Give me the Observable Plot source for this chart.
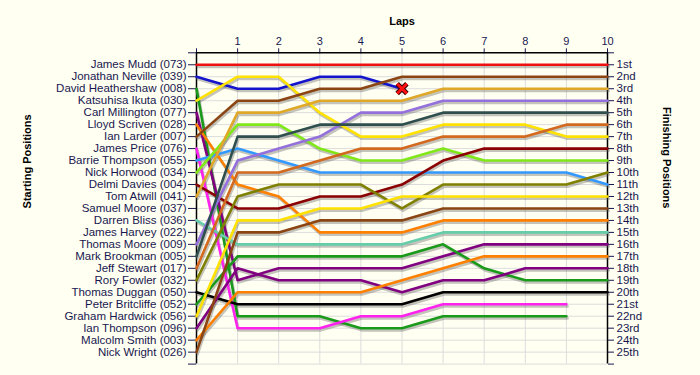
<!DOCTYPE html>
<html>
<head>
<meta charset="utf-8">
<script src="https://cdn.jsdelivr.net/npm/d3@7"></script>
<script src="https://cdn.jsdelivr.net/npm/@observablehq/plot@0.6"></script>
<style>
  html, body { margin: 0; padding: 0; background: #fffff2; }
</style>
</head>
<body>
<div id="chart"></div>
<script>
// Starting grid order (position 1..25)
const startNames = [
  "James Mudd (073)", "Jonathan Neville (039)", "David Heathershaw (008)", "Katsuhisa Ikuta (030)",
  "Carl Millington (077)", "Lloyd Scriven (028)", "Ian Larder (007)", "James Price (076)",
  "Barrie Thompson (055)", "Nick Horwood (034)", "Delmi Davies (004)", "Tom Atwill (041)",
  "Samuel Moore (037)", "Darren Bliss (036)", "James Harvey (022)", "Thomas Moore (009)",
  "Mark Brookman (005)", "Jeff Stewart (017)", "Rory Fowler (032)", "Thomas Duggan (050)",
  "Peter Britcliffe (052)", "Graham Hardwick (056)", "Ian Thompson (096)", "Malcolm Smith (003)",
  "Nick Wright (026)"
];

const lapTicks = [0, 1, 2, 3, 4, 5, 6, 7, 8, 9, 10];

// Position of each driver at lap 0..N (same order as startNames)
const lapPositions = [
  [1, 1, 1, 1, 1, 1, 1, 1, 1, 1, 1],
  [2, 3, 3, 2, 2, 3],
  [3, 22, 22, 22, 23, 23, 22, 22, 22, 22],
  [4, 2, 2, 5, 7, 7, 6, 6, 6, 7, 7],
  [5, 19, 18, 18, 18, 18, 17, 16, 16, 16, 16],
  [6, 11, 12, 15, 15, 15, 14, 14, 14, 14, 14],
  [7, 4, 4, 3, 3, 2, 2, 2, 2, 2, 2],
  [8, 23, 23, 23, 22, 22, 21, 21, 21, 21],
  [9, 8, 9, 10, 10, 10, 10, 10, 10, 10, 11],
  [10, 6, 6, 8, 9, 9, 8, 9, 9, 9, 9],
  [11, 13, 13, 12, 12, 11, 9, 8, 8, 8, 8],
  [12, 5, 5, 4, 4, 4, 3, 3, 3, 3, 3],
  [],
  [14, 16, 16, 16, 16, 16, 15, 15, 15, 15, 15],
  [],
  [16, 9, 8, 7, 5, 5, 4, 4, 4, 4, 4],
  [17, 7, 7, 6, 6, 6, 5, 5, 5, 5, 5],
  [18, 10, 10, 9, 8, 8, 7, 7, 7, 6, 6],
  [19, 12, 11, 11, 11, 13, 11, 11, 11, 11, 10],
  [20, 21, 21, 21, 21, 21, 20, 20, 20, 20, 20],
  [21, 17, 17, 17, 17, 17, 16, 18, 19, 19, 19],
  [22, 14, 14, 13, 13, 12, 12, 12, 12, 12, 12],
  [23, 18, 19, 19, 19, 20, 19, 19, 18, 18, 18],
  [24, 20, 20, 20, 20, 19, 18, 17, 17, 17, 17],
  [25, 15, 15, 14, 14, 14, 13, 13, 13, 13, 13]
];

const driverColors = [
  "#ee1111", "#1414cc", "#1a9a1a", "#ffe200", "#800080", "#ff8000", "#8b4513", "#ff22ee",
  "#3399ff", "#80e818", "#8b0000", "#e0a828", "#999999", "#66cdaa", "#999999", "#9370db",
  "#2f4f4f", "#d2691e", "#808000", "#000000", "#1a9a1a", "#ffe200", "#800080", "#ff8000",
  "#8b4513"
];

// Drivers who retired (marked with a cross at their last lap)
const retired = ["Jonathan Neville (039)"];

const rows = [];
startNames.forEach((name, i) => {
  lapPositions[i].forEach((p, lap) => rows.push({name, lap, pos: p, color: driverColors[i]}));
});
const crosses = retired.map(n => {
  const i = startNames.indexOf(n);
  const arr = lapPositions[i];
  return {lap: arr.length - 1, pos: arr[arr.length - 1]};
});

const ordinal = n => {
  const s = ["th", "st", "nd", "rd"], v = n % 100;
  return n + (s[(v - 20) % 10] || s[v] || s[0]);
};
const posTicks = d3.range(0, 27);

const textColor = "#181850";

const chart = Plot.plot({
  width: 700,
  height: 375,
  marginLeft: 196,
  marginRight: 93,
  marginTop: 52.3,
  marginBottom: 11.4,
  style: {background: "#fffff2", fontFamily: "'Liberation Sans', Arial, sans-serif", fontSize: "11px", color: textColor},
  x: {domain: [0, 10]},
  y: {domain: [0, 26], reverse: true},
  color: {type: "identity"},
  marks: [
    Plot.gridX(lapTicks.slice(1, 10), {stroke: "#dcdcdc", strokeOpacity: 1}),
    Plot.gridY(posTicks.slice(1), {stroke: "#dcdcdc", strokeOpacity: 1}),
    Plot.axisX({anchor: "top", ticks: lapTicks, tickFormat: d => d === 0 ? "" : String(d), tickSize: 5, tickPadding: 3, label: null, fontSize: 11, fill: textColor}),
    Plot.axisY({anchor: "left", ticks: posTicks, tickFormat: p => startNames[p - 1] ?? "", tickSize: 8, tickPadding: 2, label: null, fontSize: 11.5, fill: textColor}),
    Plot.axisY({anchor: "right", ticks: posTicks, tickFormat: p => (p >= 1 && p <= 25) ? ordinal(p) : "", tickSize: 6, tickPadding: 3, label: null, fontSize: 11.5, fill: textColor}),
    Plot.ruleY([0], {stroke: "black", strokeWidth: 1.5}),
    Plot.ruleX([0, 10], {stroke: "black", strokeWidth: 1.5}),
    // shadows
    Plot.line(rows, {x: "lap", y: "pos", z: "name", stroke: "#555", strokeOpacity: 0.35, strokeWidth: 3, dx: 1, dy: 2, strokeLinejoin: "round"}),
    Plot.line(rows, {x: "lap", y: "pos", z: "name", stroke: "color", strokeWidth: 2.6, strokeLinejoin: "round"}),
    Plot.dot(crosses, {x: "lap", y: "pos", symbol: "times", r: 4.5, stroke: "#400000", strokeWidth: 5}),
    Plot.dot(crosses, {x: "lap", y: "pos", symbol: "times", r: 4.5, stroke: "#ff1010", strokeWidth: 2.8}),
    Plot.text(["Laps"], {frameAnchor: "top", dy: -36, fontWeight: "bold", fontSize: 11, fill: "black"}),
    Plot.text(["Starting Positions"], {frameAnchor: "left", dx: -169, rotate: -90, fontWeight: "bold", fontSize: 11, fill: "black"}),
    Plot.text(["Finishing Positions"], {frameAnchor: "right", dx: 59, rotate: 90, fontWeight: "bold", fontSize: 11, fill: "black"})
  ]
});
document.getElementById("chart").appendChild(chart);
</script>
</body>
</html>
